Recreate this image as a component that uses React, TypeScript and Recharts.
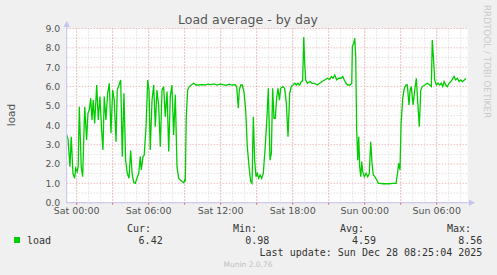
import React from 'react';
import { LineChart, Line, XAxis, YAxis, CartesianGrid } from 'recharts';

// hours relative to Sat 00:00
const hours = [
  -0.83, -0.72, -0.56, -0.45, -0.31, -0.17, -0.08, 0.05, 0.13, 0.22, 0.38, 0.5, 0.67, 0.83, 0.94, 1.05,
  1.17, 1.28, 1.38, 1.5, 1.67, 1.8, 1.94, 2.08, 2.19, 2.3, 2.44, 2.58, 2.72, 2.86, 3.0, 3.13,
  3.28, 3.38, 3.53, 3.67, 3.8, 3.94, 4.08, 4.22, 4.36, 4.5, 4.62, 4.75, 4.88, 5.03, 5.17, 5.3,
  5.38, 5.53, 5.63, 5.78, 5.92, 6.03, 6.13, 6.28, 6.42, 6.55, 6.69, 6.83, 6.97, 7.11, 7.25, 7.38,
  7.53, 7.67, 7.8, 7.94, 8.08, 8.22, 8.36, 8.5, 8.63, 8.78, 8.92, 9.0, 9.05, 9.13, 9.25, 9.38,
  9.55, 9.75, 9.94, 10.17, 10.44, 10.7, 10.95, 11.2, 11.45, 11.7, 11.95, 12.2, 12.45, 12.7, 12.95, 13.2,
  13.33, 13.47, 13.55, 13.67, 13.8, 13.94, 14.08, 14.22, 14.36, 14.5, 14.61, 14.72, 14.83, 14.94, 15.05, 15.17,
  15.28, 15.42, 15.55, 15.69, 15.83, 15.97, 16.03, 16.11, 16.22, 16.33, 16.44, 16.55, 16.67, 16.78, 16.89, 17.0,
  17.17, 17.33, 17.47, 17.61, 17.75, 17.88, 18.03, 18.17, 18.3, 18.44, 18.58, 18.72, 18.83, 18.92, 19.0, 19.08,
  19.22, 19.42, 19.61, 19.83, 20.05, 20.25, 20.44, 20.67, 20.88, 21.08, 21.22, 21.36, 21.5, 21.67, 21.83, 22.03,
  22.17, 22.3, 22.44, 22.58, 22.78, 22.92, 22.97, 23.08, 23.17, 23.25, 23.33, 23.42, 23.5, 23.58, 23.67, 23.75,
  23.83, 23.97, 24.11, 24.25, 24.38, 24.5, 24.61, 24.72, 24.86, 25.0, 25.13, 25.28, 25.5, 25.78, 26.05, 26.33,
  26.61, 26.75, 26.83, 26.94, 27.03, 27.17, 27.3, 27.44, 27.55, 27.69, 27.78, 27.88, 28.03, 28.17, 28.3, 28.44,
  28.55, 28.67, 28.8, 29.0, 29.22, 29.42, 29.55, 29.63, 29.72, 29.83, 29.97, 30.11, 30.25, 30.38, 30.5, 30.61,
  30.75, 30.88, 31.03, 31.17, 31.3, 31.44, 31.58, 31.72, 31.86, 32.0, 32.13, 32.3, 32.42,
];

const load = [
  3.5, 3.3, 1.86, 3.41, 1.52, 1.26, 1.78, 1.6, 1.9, 4.96, 1.86, 1.34, 4.96, 3.24, 4.62, 4.79,
  5.4, 4.27, 5.3, 4.1, 6.08, 4.27, 5.48, 3.76, 2.72, 5.48, 4.27, 5.65, 6.17, 3.59, 5.82, 5.3,
  3.15, 5.82, 6.08, 6.34, 2.38, 5.65, 2.2, 1.52, 1.26, 2.7, 1.5, 1.05, 1.0, 1.28, 1.52, 2.38,
  1.69, 2.38, 2.46, 3.93, 6.34, 5.82, 2.72, 5.3, 6.08, 3.93, 5.82, 5.05, 2.89, 5.82, 6.0, 4.44,
  5.74, 2.64, 5.48, 6.08, 3.5, 5.57, 1.86, 1.26, 1.17, 1.09, 1.03, 1.17, 1.09, 4.44, 5.82, 6.0,
  6.08, 6.17, 6.08, 6.08, 6.1, 6.08, 6.12, 6.1, 6.14, 6.08, 6.12, 6.1, 6.06, 6.12, 6.08, 6.1,
  6.0, 4.88, 5.82, 6.08, 6.08, 5.74, 4.79, 2.89, 1.86, 1.09, 1.0, 4.44, 2.2, 1.34, 1.52, 1.26,
  1.43, 1.26, 1.52, 2.72, 4.1, 5.91, 4.27, 2.2, 2.55, 5.91, 4.36, 4.36, 5.48, 5.91, 5.3, 5.91,
  6.0, 5.91, 5.13, 3.41, 5.65, 6.0, 6.08, 6.17, 6.08, 6.17, 6.08, 6.26, 6.3, 8.56, 7.2, 6.34,
  6.17, 6.26, 6.17, 6.17, 6.08, 6.17, 6.26, 6.34, 6.43, 6.37, 6.52, 6.43, 6.6, 6.34, 6.43, 6.43,
  6.52, 6.34, 6.17, 6.08, 6.08, 6.17, 8.06, 8.24, 8.5, 7.55, 3.76, 2.2, 3.41, 1.86, 1.34, 2.12,
  1.6, 1.34, 1.52, 1.34, 1.52, 3.15, 2.03, 1.43, 1.34, 1.17, 1.0, 1.0, 0.98, 0.98, 0.98, 1.0,
  1.0, 1.6, 2.03, 1.7, 4.1, 5.4, 5.91, 6.08, 6.08, 5.05, 5.82, 6.0, 5.05, 5.82, 6.43, 4.96,
  3.93, 5.82, 6.0, 6.08, 6.17, 6.08, 6.0, 8.41, 7.55, 6.34, 6.08, 6.17, 6.08, 6.17, 6.0, 6.26,
  6.08, 6.0, 6.17, 6.26, 6.37, 6.52, 6.34, 6.43, 6.26, 6.34, 6.26, 6.34, 6.42,
];

const xTicks = [0, 3, 6, 9, 12, 15, 18, 21, 24, 27, 30];
const xTickLabels: Record<number, string> = {
  0: 'Sat 00:00', 6: 'Sat 06:00', 12: 'Sat 12:00', 18: 'Sat 18:00', 24: 'Sun 00:00', 30: 'Sun 06:00',
};
const yTicks = [0, 1, 2, 3, 4, 5, 6, 7, 8, 9];
const minorH = [0.5, 1.5, 2.5, 3.5, 4.5, 5.5, 6.5, 7.5, 8.5];
const minorV = Array.from({ length: 33 }, (_, i) => i);

const statNames = ['Cur:', 'Min:', 'Avg:', 'Max:'];
const statValues = ['6.42', '0.98', '4.59', '8.56'];

const data = hours.map((h, i) => ({ h, load: load[i] }));

const axisColor = '#c4c4f4';
const mono = '"DejaVu Sans Mono", monospace';
const sans = '"DejaVu Sans", sans-serif';

export default function App() {
  const statLeft = [127, 233, 340, 447];
  const statRight = [162.7, 269.3, 376, 482.3];
  return (
    <div style={{ position: 'absolute', left: 0, top: 0, width: 497, height: 275, background: '#f0f0f0' }}>
      <LineChart width={497} height={275} data={data} margin={{ top: 28.5, right: 29.3, bottom: 52.3, left: 26.7 }}>
        <CartesianGrid fill="#ffffff" stroke="#d2d2d2" strokeDasharray="1 2" horizontalValues={minorH} verticalValues={minorV} />
        <CartesianGrid stroke="#eaa0a0" strokeDasharray="1 2" horizontalValues={yTicks} verticalValues={xTicks} />
        <XAxis
          dataKey="h"
          type="number"
          domain={[-0.83, 32.58]}
          allowDataOverflow
          ticks={xTicks}
          interval={0}
          height={20}
          tickFormatter={(v: number) => xTickLabels[v] ?? ''}
          tick={{ fill: '#555', fontSize: 9.5, fontFamily: sans }}
          tickLine={{ stroke: '#e06060' }}
          tickSize={2}
          tickMargin={3}
          axisLine={{ stroke: axisColor }}
        />
        <YAxis
          type="number"
          domain={[0, 9]}
          ticks={yTicks}
          interval={0}
          width={40}
          tickFormatter={(v: number) => v.toFixed(1)}
          tick={{ fill: '#555', fontSize: 9.3, fontFamily: sans }}
          tickLine={false}
          tickSize={0}
          tickMargin={6.5}
          axisLine={{ stroke: axisColor }}
        />
        <Line type="linear" dataKey="load" stroke="#00cc00" strokeWidth={1.3} dot={false} isAnimationActive={false} />
      </LineChart>
      <svg width={497} height={275} style={{ position: 'absolute', left: 0, top: 0, pointerEvents: 'none' }}>
        <text x={248} y={24} textAnchor="middle" fontSize={12.5} fontFamily={sans} fill="#555">Load average - by day</text>
        <text transform="translate(15,115) rotate(-90)" textAnchor="middle" fontSize={10.5} fontFamily={sans} fill="#555">load</text>
        <text transform="translate(484,5) rotate(90)" fontSize={8.8} fontFamily={sans} fill="#cccccc">RRDTOOL / TOBI OETIKER</text>
        <line x1={66.7} y1={22} x2={66.7} y2={28.5} stroke={axisColor} />
        <polygon points="63.5,27 70,27 66.7,21" fill={axisColor} />
        <line x1={467.7} y1={202.7} x2={470} y2={202.7} stroke={axisColor} />
        <polygon points="469,199.5 469,206 475,202.7" fill={axisColor} />
        <rect x={14} y={237} width={6} height={6} fill="#00cc00" />
        <text x={27} y={243.5} fontSize={10} fontFamily={mono} fill="#333">load</text>
        {statNames.map((s, i) => (
          <text key={s} x={statLeft[i]} y={231.5} fontSize={10} fontFamily={mono} fill="#333">{s}</text>
        ))}
        {statValues.map((s, i) => (
          <text key={i} x={statRight[i]} y={243.5} textAnchor="end" fontSize={10} fontFamily={mono} fill="#333">{s}</text>
        ))}
        <text x={482.3} y={255.5} textAnchor="end" fontSize={10} fontFamily={mono} fill="#333">Last update: Sun Dec 28 08:25:04 2025</text>
        <text x={248} y={267} textAnchor="middle" fontSize={7.5} fontFamily={sans} fill="#c0c0c0">Munin 2.0.76</text>
      </svg>
    </div>
  );
}
